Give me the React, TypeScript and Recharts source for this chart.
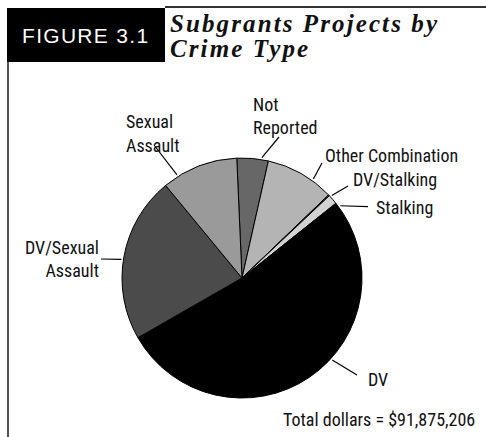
import React from 'react';
import { PieChart, Pie, Cell } from 'recharts';

// share of total dollars, clockwise from the top
const categories = ['Not Reported', 'Other Combination', 'DV/Stalking', 'Stalking', 'DV', 'DV/Sexual Assault', 'Sexual Assault'];
const shares = [4.22, 9.3, 0.14, 1.33, 52.4, 22.3, 10.28];
const fills = ['#676767', '#b4b4b4', '#3a3a3a', '#d2d2d2', '#000000', '#4b4b4b', '#9a9a9a'];
const totalLabel = 'Total dollars = $91,875,206';

const data = categories.map((name, i) => ({ name, value: shares[i] }));

const labelFont = "'Roboto Condensed', 'DejaVu Sans Condensed', sans-serif";

// leader anchor angle (deg clockwise from top), leader outer end and text, relative to pie centre
const labelLayout: Record<string, { angle: number; ex: number; ey: number; lines: string[]; tx: number; ty: number; anchor: 'start' | 'end' }> = {
  'Sexual Assault': { angle: 327.8, ex: -88, ey: -133, lines: ['Sexual', 'Assault'], tx: -116, ty: -150, anchor: 'start' },
  'Not Reported': { angle: 9.4, ex: 37, ey: -141, lines: ['Not', 'Reported'], tx: 11, ty: -167.5, anchor: 'start' },
  'Other Combination': { angle: 35.8, ex: 80, ey: -115, lines: ['Other Combination'], tx: 83, ty: -116.5, anchor: 'start' },
  'DV/Stalking': { angle: 47.4, ex: 106, ey: -92, lines: ['DV/Stalking'], tx: 111, ty: -92, anchor: 'start' },
  Stalking: { angle: 53.7, ex: 126, ey: -71.3, lines: ['Stalking'], tx: 134, ty: -64, anchor: 'start' },
  'DV/Sexual Assault': { angle: 278.8, ex: -141, ey: -19, lines: ['DV/Sexual', 'Assault'], tx: -143, ty: -24.5, anchor: 'end' },
  DV: { angle: 132.3, ex: 115, ey: 97, lines: ['DV'], tx: 126, ty: 108, anchor: 'start' },
};

const renderLabel = (props: any) => {
  const { cx, cy, outerRadius, name } = props;
  const l = labelLayout[name];
  if (!l) return null;
  const rad = (l.angle * Math.PI) / 180;
  const r = outerRadius + 2;
  const x1 = cx + r * Math.sin(rad);
  const y1 = cy - r * Math.cos(rad);
  return (
    <g>
      <line x1={x1} y1={y1} x2={cx + l.ex} y2={cy + l.ey} stroke="#000" strokeWidth={1.2} />
      {l.lines.map((t, i) => (
        <text
          key={t}
          x={cx + l.tx}
          y={cy + l.ty + i * 23.5}
          textAnchor={l.anchor}
          fontFamily={labelFont}
          fontSize={18}
          fill="#111"
        >
          {t}
        </text>
      ))}
    </g>
  );
};

const titleStyle: React.CSSProperties = {
  position: 'absolute', left: 170, fontFamily: "'Liberation Serif', 'Times New Roman', serif",
  fontStyle: 'italic', fontWeight: 'bold', fontSize: 25, letterSpacing: 2.1, lineHeight: '25px', color: '#111',
  whiteSpace: 'nowrap',
};

export default function App() {
  return (
    <div style={{ position: 'absolute', left: 0, top: 0, width: 486, height: 437, background: '#fff', overflow: 'hidden' }}>
      {/* header */}
      <div style={{ position: 'absolute', left: 7, top: 7.5, width: 158, height: 54.5, background: '#000' }} />
      <div
        style={{
          position: 'absolute', left: 22, top: 24.5, color: '#fff', fontFamily: "'Liberation Sans', Arial, sans-serif",
          fontSize: 21, letterSpacing: 1.3, lineHeight: '21px', whiteSpace: 'nowrap',
        }}
      >
        FIGURE 3.1
      </div>
      <div style={{ position: 'absolute', left: 165, top: 6, width: 321, height: 2, background: '#333' }} />
      <div style={{ position: 'absolute', left: 7, top: 62, width: 2.3, height: 375, background: '#555' }} />
      <div style={{ ...titleStyle, top: 11 }}>Subgrants Projects by</div>
      <div style={{ ...titleStyle, top: 36 }}>Crime Type</div>

      <div style={{ position: 'absolute', left: 0, top: 0 }}>
        <PieChart width={486} height={437} margin={{ top: 0, right: 0, bottom: 0, left: 0 }}>
          <Pie
            data={data}
            dataKey="value"
            nameKey="name"
            cx={242}
            cy={278}
            outerRadius={120}
            startAngle={92.5}
            endAngle={-267.5}
            stroke="#000"
            strokeWidth={1}
            label={renderLabel}
            labelLine={false}
            isAnimationActive={false}
          >
            {data.map((d, i) => (
              <Cell key={d.name} fill={fills[i]} />
            ))}
          </Pie>
        </PieChart>
      </div>

      <div
        style={{
          position: 'absolute', left: 283, top: 409, fontFamily: labelFont, fontSize: 18, color: '#111',
          whiteSpace: 'pre', lineHeight: '22px',
        }}
      >
        {totalLabel}
      </div>
    </div>
  );
}
